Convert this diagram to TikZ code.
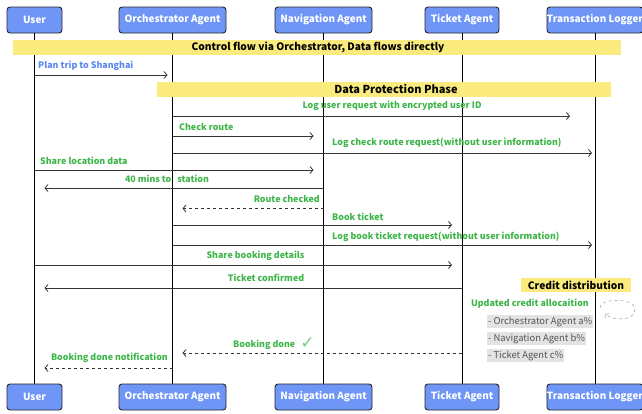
\documentclass[tikz,border=0pt]{standalone}
\usepackage{fontspec}
\setmainfont{Noto Sans CJK SC}
\newfontfamily\dejavu{DejaVu Sans}
\usetikzlibrary{arrows.meta}
\definecolor{hdr}{HTML}{6F96F7}
\definecolor{grn}{HTML}{3DB548}
\definecolor{blu}{HTML}{5B86F0}
\definecolor{yel}{HTML}{FBEB7E}
\definecolor{ln}{HTML}{333333}
\definecolor{itembg}{HTML}{E3E3E3}
\definecolor{itemfg}{HTML}{555555}
\begin{document}
\begin{tikzpicture}[x=1pt,y=-1pt,
  font=\bfseries\fontsize{8.9}{10.5}\selectfont,
  actor/.style={draw=black!85, line width=0.9pt, fill=hdr, rounded corners=3pt, text=white,
    minimum height=26pt, inner sep=0pt, font=\bfseries\fontsize{9.9}{12}\selectfont},
  life/.style={line width=0.9pt, black},
  msg/.style={draw=ln, line width=0.8pt, -{Straight Barb[length=3pt,width=7pt]}, shorten >=10pt},
  ret/.style={msg, dashed},
  lbl/.style={text=grn, inner sep=0pt},
  band/.style={fill=yel, inner sep=0pt, text=black, font=\bfseries\fontsize{10.2}{12}\selectfont},
  item/.style={fill=itembg, text=itemfg, inner sep=1pt, anchor=west, minimum height=12.5pt,
    font=\mdseries\fontsize{9.4}{11}\selectfont}]
\useasboundingbox (0,0) rectangle (642,413);
% actors top
\node[actor, minimum width=55pt]  (u)  at (34.5,20) {User};
\node[actor, minimum width=107pt] (o)  at (172.5,20) {Orchestrator Agent};
\node[actor, minimum width=97pt]  (n)  at (323.5,20) {Navigation Agent};
\node[actor, minimum width=74pt]  (t)  at (462,20) {Ticket Agent};
\node[actor, minimum width=93pt]  (l)  at (595,20) {Transaction Logger};
% actors bottom
\node[actor, minimum width=55pt]  (ub) at (34.5,397) {User};
\node[actor, minimum width=107pt] (ob) at (172.5,397) {Orchestrator Agent};
\node[actor, minimum width=97pt]  (nb) at (323.5,397) {Navigation Agent};
\node[actor, minimum width=74pt]  (tb) at (462,397) {Ticket Agent};
\node[actor, minimum width=93pt]  (lb) at (595,397) {Transaction Logger};
% lifelines
\foreach \a in {u,o,n,t,l}{\draw[life] (\a.south) -- (\a b.north);}
% bands
\path[band] (13,40) rectangle (621,55);
\node[band] (b1) at (318,47.5) {Control flow via Orchestrator, Data flows directly};
\path[band] (157,82) rectangle (611,97);
\node[band, font=\bfseries\fontsize{11}{12}\selectfont] (b2) at (396,89.5) {Data Protection Phase};
% messages
\draw[msg, shorten >=5pt] (u.south |- 0,75) -- (o.south |- 0,75);
\node[lbl, text=blu, anchor=west] (m1) at (38,66) {Plan trip to Shanghai};

\draw[msg, shorten >=25pt] (o.south |- 0,116) -- (l.south |- 0,116);
\node[lbl] (m2) at (392,106) {Log user request with encrypted user ID};

\draw[msg] (o.south |- 0,136) -- (n.south |- 0,136);
\node[lbl, anchor=west] (m3) at (179,127) {Check route};

\draw[msg, shorten >=3pt] (o.south |- 0,153) -- (l.south |- 0,153);
\node[lbl, anchor=west] (m4) at (332,143) {Log check route request(without user information)};

\draw[msg] (u.south |- 0,170) -- (n.south |- 0,170);
\node[lbl, anchor=west] (m5) at (40,160.5) {Share location data};

\draw[msg] (n.south |- 0,188) -- (u.south |- 0,188);
\node[lbl] (m6) at (167,179) {40 mins to\hspace{6pt}station};

\draw[ret] (n.south |- 0,208.5) -- (o.south |- 0,208.5);
\node[lbl, anchor=east] (m7) at (320,199) {Route checked};

\draw[msg] (o.south |- 0,225) -- (t.south |- 0,225);
\node[lbl, anchor=west] (m8) at (332,217) {Book ticket};

\draw[msg, shorten >=3pt] (o.south |- 0,245) -- (l.south |- 0,245);
\node[lbl, anchor=west] (m9) at (332,236.5) {Log book ticket request(without user information)};

\draw[msg] (u.south |- 0,265) -- (t.south |- 0,265);
\node[lbl] (m10) at (255.5,255.5) {Share booking details};

\draw[msg] (t.south |- 0,288) -- (u.south |- 0,288);
\node[lbl] (m11) at (266,278) {Ticket confirmed};

% credit distribution
\node[band, minimum width=110pt, minimum height=14pt] (cd) at (576,285) {Credit distribution};
\node[lbl, anchor=east] (uc) at (589,303.5) {Updated credit allocaition};
\node[item] (i1) at (487,321.5) {- Orchestrator Agent a\%};
\node[item] (i2) at (487,338.5) {- Navigation Agent b\%};
\node[item] (i3) at (487,355.5) {- Ticket Agent c\%};
\coordinate (sl1) at (600,308);
\coordinate (sl2) at (605,314);
\draw[gray!60, dashed, line width=0.7pt, -{Straight Barb[length=2.5pt,width=6pt]}]
  (sl1) .. controls (598,298) and (636,297) .. (635,310) .. controls (634,322) and (612,320) .. (sl2);

\draw[ret] (t.south |- 0,353) -- (o.south |- 0,353);
\node[lbl, anchor=west] (m12) at (233,343.5) {Booking done\hspace{5pt}\raisebox{-0.5pt}{\dejavu\mdseries\fontsize{17}{17}\selectfont\color{grn!70}✓}};

\draw[ret] (o.south |- 0,368) -- (u.south |- 0,368);
\node[lbl, anchor=east] (m13) at (168,357.5) {Booking done notification};
\end{tikzpicture}
\end{document}
